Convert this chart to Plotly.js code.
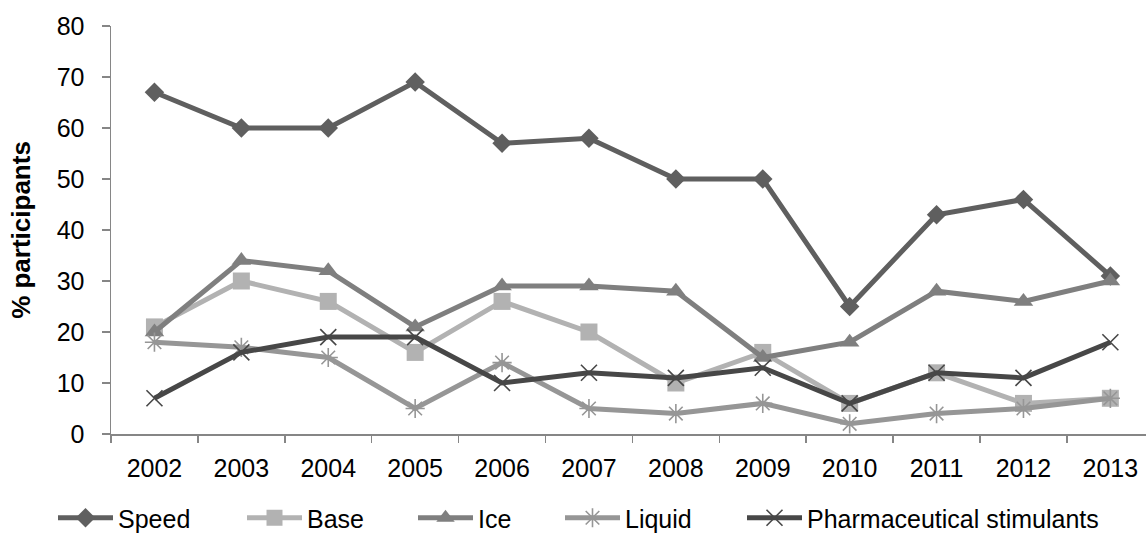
<!DOCTYPE html>
<html>
<head>
<meta charset="utf-8">
<script src="https://cdn.plot.ly/plotly-3.0.1.min.js"></script>
<style>
  html, body { margin: 0; padding: 0; background: #fff; }
  #chart { width: 1146px; height: 541px; }
</style>
</head>
<body>
<div id="chart"></div>
<script>
// Survey years
const years = ['2002','2003','2004','2005','2006','2007','2008','2009','2010','2011','2012','2013'];

// Share of participants reporting use, by stimulant form (%)
const speed  = [67, 60, 60, 69, 57, 58, 50, 50, 25, 43, 46, 31];
const base   = [21, 30, 26, 16, 26, 20, 10, 16,  6, 12,  6,  7];
const ice    = [20, 34, 32, 21, 29, 29, 28, 15, 18, 28, 26, 30];
const liquid = [18, 17, 15,  5, 14,  5,  4,  6,  2,  4,  5,  7];
const pharma = [ 7, 16, 19, 19, 10, 12, 11, 13,  6, 12, 11, 18];

const yTicks = [0, 10, 20, 30, 40, 50, 60, 70, 80];

const FONT = 'Liberation Sans, Arial, sans-serif';
const AXIS = '#868686';

function series(name, y, color, symbol, size, legendId, open) {
  const marker = { symbol: symbol, size: size, color: color };
  if (open) marker.line = { color: color, width: 1.6 };
  return {
    type: 'scatter', mode: 'lines+markers', name: name,
    x: years, y: y,
    line: { color: color, width: 5 },
    marker: marker,
    legend: legendId,
    hoverinfo: 'x+y+name'
  };
}

const traces = [
  series('Speed', speed, '#5f5f5f', 'diamond', 15, 'legend', false),
  series('Base', base, '#b2b2b2', 'square', 17, 'legend2', false),
  series('Ice', ice, '#7f7f7f', 'triangle-up', 17, 'legend3', false),
  series('Liquid', liquid, '#969696', 'asterisk-open', 16, 'legend4', true),
  series('Pharmaceutical stimulants', pharma, '#474747', 'x-thin-open', 16, 'legend5', true)
];

function leg(xPaper) {
  return {
    orientation: 'h', x: xPaper, xanchor: 'left', y: -0.207, yanchor: 'middle',
    font: { family: FONT, size: 25, color: '#000' },
    bgcolor: 'rgba(0,0,0,0)', borderwidth: 0, itemwidth: 55,
    tracegroupgap: 0
  };
}

// plot area spans 111..1146 px
const px2paper = p => (p - 111) / 1035;

const layout = {
  width: 1146, height: 541,
  margin: { l: 111, r: 0, t: 26, b: 105 },
  paper_bgcolor: '#fff', plot_bgcolor: '#fff',
  font: { family: FONT, size: 25, color: '#000' },
  showlegend: true,
  xaxis: {
    type: 'category', range: [-0.5, 11.41],
    showline: true, linecolor: AXIS, linewidth: 1.5,
    ticks: 'outside', tickson: 'boundaries', ticklen: 7, tickcolor: AXIS, tickwidth: 1.5,
    ticklabelstandoff: 11,
    showgrid: false, zeroline: false,
    tickfont: { family: FONT, size: 25, color: '#000' }
  },
  yaxis: {
    range: [0, 80], tickvals: yTicks, ticktext: yTicks.map(String),
    showline: true, linecolor: AXIS, linewidth: 1.5,
    ticks: 'outside', ticklen: 8, tickcolor: AXIS, tickwidth: 1.5,
    ticklabelstandoff: 12,
    showgrid: false, zeroline: false,
    tickfont: { family: FONT, size: 25, color: '#000' },
    title: { text: '<b>% participants</b>', font: { family: FONT, size: 26, color: '#000' }, standoff: 18 }
  },
  legend:  leg(px2paper(53)),
  legend2: leg(px2paper(242)),
  legend3: leg(px2paper(413)),
  legend4: leg(px2paper(560)),
  legend5: leg(px2paper(742))
};

Plotly.newPlot('chart', traces, layout, { displayModeBar: false, staticPlot: true });
</script>
</body>
</html>
